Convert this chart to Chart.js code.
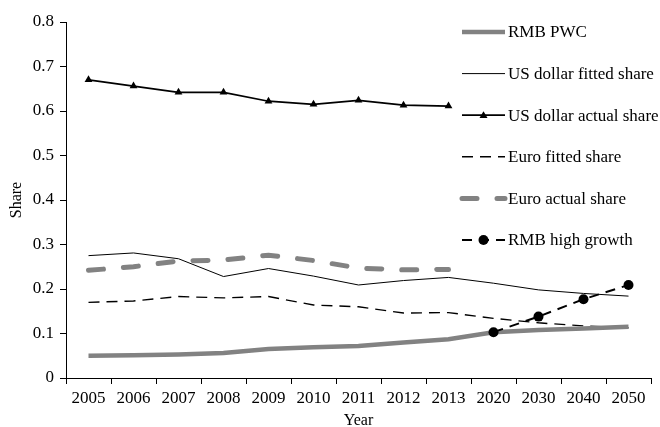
<!DOCTYPE html>
<html>
<head>
<meta charset="utf-8">
<title>Currency shares</title>
<script src="https://cdn.jsdelivr.net/npm/chart.js@4.4.1/dist/chart.umd.min.js"></script>
<style>
  html, body { margin: 0; padding: 0; background: #ffffff; }
  #wrap { width: 660px; height: 427px; }
</style>
</head>
<body>
<div id="wrap"><canvas id="chartShares" width="660" height="427"></canvas></div>
<script>
// Years on the x axis
const years = ['2005', '2006', '2007', '2008', '2009', '2010', '2011', '2012', '2013', '2020', '2030', '2040', '2050'];

// Series values (share of reserves)
const rmbPwc = [0.050, 0.051, 0.053, 0.056, 0.065, 0.069, 0.072, 0.080, 0.087, 0.103, 0.108, 0.111, 0.115];
const usdFitted = [0.275, 0.281, 0.268, 0.228, 0.246, 0.229, 0.209, 0.219, 0.226, 0.213, 0.198, 0.190, 0.184];
const usdActual = [0.670, 0.656, 0.642, 0.642, 0.622, 0.615, 0.624, 0.613, 0.611, null, null, null, null];
const euroFitted = [0.170, 0.173, 0.183, 0.180, 0.183, 0.164, 0.160, 0.146, 0.147, 0.134, 0.124, 0.117, 0.113];
const euroActual = [0.242, 0.250, 0.263, 0.265, 0.276, 0.264, 0.247, 0.243, 0.244, null, null, null, null];
const rmbHigh = [null, null, null, null, null, null, null, null, null, 0.103, 0.138, 0.177, 0.209];

const yTicks = [0, 0.1, 0.2, 0.3, 0.4, 0.5, 0.6, 0.7, 0.8];

const FONT = 'Liberation Serif, "Times New Roman", serif';
const GREY = '#828282';

/**
 * Legend drawn inside the plot, on the right, with a sample of each line style
 */
const inlineLegend = {
  id: 'inlineLegend',
  afterDraw(chart) {
    const ctx = chart.ctx;
    const x0 = 462, x1 = 505, top = 32, step = 41.6;
    ctx.save();
    chart.data.datasets.forEach((ds, i) => {
      const y = top + i * step;
      ctx.beginPath();
      ctx.setLineDash(ds.borderDash || []);
      ctx.lineCap = ds.borderCapStyle || 'butt';
      ctx.lineWidth = ds.borderWidth;
      ctx.strokeStyle = ds.borderColor;
      ctx.moveTo(x0, y);
      ctx.lineTo(x1, y);
      ctx.stroke();
      ctx.setLineDash([]);

      const mx = (x0 + x1) / 2;
      ctx.fillStyle = ds.pointBackgroundColor || '#000';
      if (ds.pointStyle === 'triangle') {
        const r = 4;
        ctx.beginPath();
        ctx.moveTo(mx, y - r);
        ctx.lineTo(mx + r, y + r * 0.7);
        ctx.lineTo(mx - r, y + r * 0.7);
        ctx.closePath();
        ctx.fill();
      } else if (ds.pointStyle === 'circle' && ds.pointRadius > 0) {
        ctx.beginPath();
        ctx.arc(mx, y, ds.pointRadius, 0, Math.PI * 2);
        ctx.fill();
      }

      ctx.fillStyle = '#000';
      ctx.font = '17px ' + FONT;
      ctx.textBaseline = 'middle';
      ctx.textAlign = 'left';
      ctx.fillText(ds.label, x1 + 3, y + 1);
    });
    ctx.restore();
  }
};

function renderSharesChart() {
  const canvas = document.getElementById('chartShares');
  const ctx = canvas.getContext('2d');

  return new Chart(ctx, {
    type: 'line',
    data: {
      labels: years,
      datasets: [
        {
          label: 'RMB PWC',
          data: rmbPwc,
          borderColor: GREY,
          borderWidth: 4.5,
          pointRadius: 0,
          order: 1
        },
        {
          label: 'US dollar fitted share',
          data: usdFitted,
          borderColor: '#000',
          borderWidth: 1,
          pointRadius: 0,
          order: 2
        },
        {
          label: 'US dollar actual share',
          data: usdActual,
          borderColor: '#000',
          borderWidth: 1.7,
          pointStyle: 'triangle',
          pointRadius: 4.5,
          pointBackgroundColor: '#000',
          pointBorderColor: '#000',
          pointBorderWidth: 0,
          order: 2
        },
        {
          label: 'Euro fitted share',
          data: euroFitted,
          borderColor: '#000',
          borderWidth: 1.4,
          borderDash: [11, 7],
          pointRadius: 0,
          order: 2
        },
        {
          label: 'Euro actual share',
          data: euroActual,
          borderColor: GREY,
          borderWidth: 5,
          borderDash: [15, 20],
          borderCapStyle: 'round',
          pointRadius: 0,
          order: 3
        },
        {
          label: 'RMB high growth',
          data: rmbHigh,
          borderColor: '#000',
          borderWidth: 2,
          borderDash: [10, 7],
          pointStyle: 'circle',
          pointRadius: 5,
          pointBackgroundColor: '#000',
          pointBorderColor: '#000',
          pointBorderWidth: 0,
          order: 0
        }
      ]
    },
    options: {
      responsive: false,
      animation: false,
      devicePixelRatio: 1,
      layout: { padding: { top: 22, right: 9, left: 0, bottom: 0 } },
      elements: { line: { tension: 0 } },
      plugins: {
        legend: { display: false },
        tooltip: { enabled: false }
      },
      scales: {
        x: {
          offset: true,
          grid: {
            offset: true,
            drawOnChartArea: false,
            drawTicks: true,
            tickLength: 6,
            color: '#000'
          },
          border: { color: '#000', width: 1 },
          ticks: {
            color: '#000',
            font: { family: FONT, size: 17 },
            maxRotation: 0,
            autoSkip: false,
            padding: 4
          },
          title: {
            display: true,
            text: 'Year',
            color: '#000',
            font: { family: FONT, size: 16 },
            padding: { top: 0, bottom: -3 }
          },
          afterFit(scale) { scale.height = 49; }
        },
        y: {
          min: 0,
          max: 0.8,
          afterBuildTicks(scale) { scale.ticks = yTicks.map(v => ({ value: v })); },
          grid: {
            drawOnChartArea: false,
            drawTicks: true,
            tickLength: 6,
            color: '#000'
          },
          border: { color: '#000', width: 1 },
          ticks: {
            color: '#000',
            font: { family: FONT, size: 17 },
            padding: 6,
            callback: v => (v === 0 ? '0' : v.toFixed(1))
          },
          title: {
            display: true,
            text: 'Share',
            color: '#000',
            font: { family: FONT, size: 16 },
            padding: { top: 7, bottom: 0 }
          },
          afterFit(scale) { scale.width = 66; }
        }
      }
    },
    plugins: [inlineLegend]
  });
}

renderSharesChart();
</script>
</body>
</html>
